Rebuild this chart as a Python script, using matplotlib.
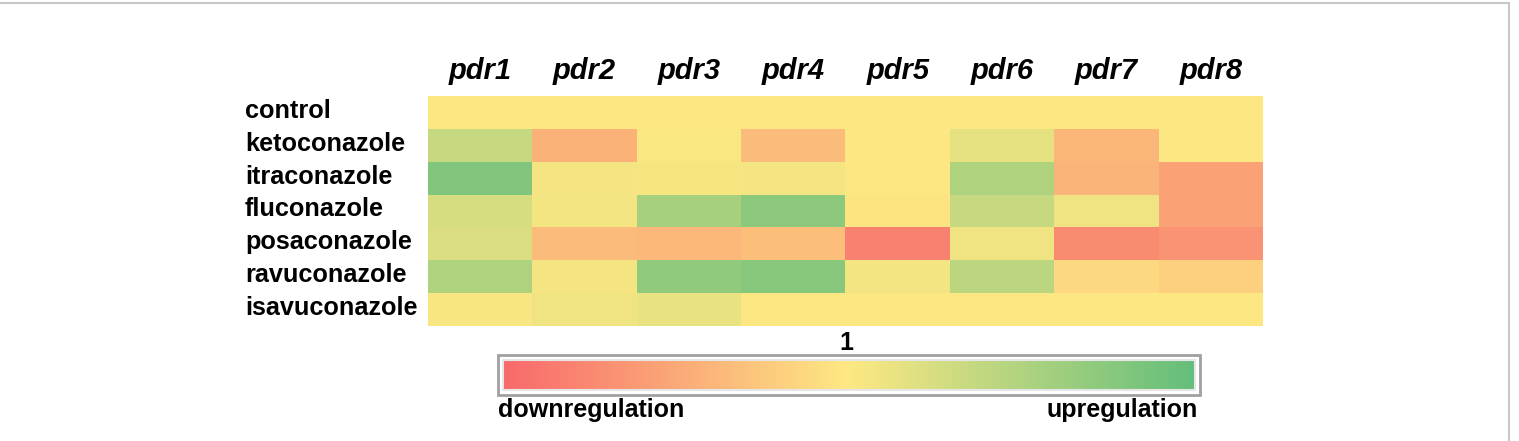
import matplotlib
matplotlib.use("Agg")
import matplotlib.pyplot as plt
from matplotlib.colors import LinearSegmentedColormap, Normalize
from matplotlib.cm import ScalarMappable
from matplotlib.lines import Line2D
from matplotlib.patches import Rectangle
import numpy as np

plt.rcParams['font.family'] = ['Liberation Sans', 'DejaVu Sans']

# genes (columns) and treatments (rows)
genes = ['pdr1', 'pdr2', 'pdr3', 'pdr4', 'pdr5', 'pdr6', 'pdr7', 'pdr8']
treatments = ['control', 'ketoconazole', 'itraconazole', 'fluconazole',
              'posaconazole', 'ravuconazole', 'isavuconazole']

# relative regulation, -1 = strongest down, 0 = unchanged, 1 = strongest up
control = [0.0, 0.0, 0.0, 0.0, 0.0, 0.0, 0.0, 0.0]
ketoconazole = [0.35, -0.42, 0.02, -0.35, 0.0, 0.15, -0.38, 0.0]
itraconazole = [0.80, 0.05, 0.04, 0.05, 0.0, 0.50, -0.40, -0.55]
fluconazole = [0.25, 0.06, 0.55, 0.72, -0.03, 0.35, 0.08, -0.55]
posaconazole = [0.22, -0.35, -0.37, -0.32, -0.80, 0.08, -0.72, -0.66]
ravuconazole = [0.50, 0.05, 0.70, 0.75, 0.06, 0.42, -0.12, -0.18]
isavuconazole = [0.03, 0.08, 0.13, 0.0, 0.0, 0.0, 0.0, 0.0]

values = np.array([control, ketoconazole, itraconazole, fluconazole,
                   posaconazole, ravuconazole, isavuconazole])

cmap = LinearSegmentedColormap.from_list('rdylgn_excel', ['#f8696b', '#fde883', '#63be7b'])
norm = Normalize(vmin=-1, vmax=1)

W, H = 1519, 441
fig = plt.figure(figsize=(W / 100, H / 100), dpi=100)

def px_axes(x0, y0, x1, y1):
    return fig.add_axes([x0 / W, 1 - y1 / H, (x1 - x0) / W, (y1 - y0) / H])

def fx(x):
    return x / W

def fy(y):
    return 1 - y / H

# heatmap
ax = px_axes(428, 96, 1263, 326)
ax.imshow(values, cmap=cmap, norm=norm, aspect='auto', interpolation='nearest')
ax.set_xticks([])
ax.set_yticks([])
for s in ax.spines.values():
    s.set_visible(False)

for j, g in enumerate(genes):
    fig.text(fx(428 + 104.4 * (j + 0.5)), fy(71), g, ha='center', va='center',
             fontsize=21, fontweight='bold', fontstyle='italic')
for i, t in enumerate(treatments):
    fig.text(fx(245), fy(96 + 32.86 * (i + 0.45)), t, ha='left', va='center',
             fontsize=18.2, fontweight='bold')

# colour scale bar
cax = px_axes(503, 360, 1195, 390)
cb = fig.colorbar(ScalarMappable(norm=norm, cmap=cmap), cax=cax, orientation='horizontal')
cb.set_ticks([])
cb.outline.set_edgecolor('#e6e6e6')
cb.outline.set_linewidth(1.5)
fig.add_artist(Rectangle((fx(498), fy(395)), fx(1200) - fx(498), fy(355) - fy(395),
                         transform=fig.transFigure, facecolor='none',
                         edgecolor='#a0a0a0', lw=2))

fig.text(fx(846), fy(343), '1', ha='center', va='center', fontsize=18, fontweight='bold')
fig.text(fx(498), fy(410), 'downregulation', ha='left', va='center', fontsize=18, fontweight='bold')
fig.text(fx(1198), fy(410), 'upregulation', ha='right', va='center', fontsize=18, fontweight='bold')

# light frame (top and right edges)
fig.add_artist(Line2D([0, fx(1509)], [fy(3), fy(3)], color='#c8c8c8', lw=1.5))
fig.add_artist(Line2D([fx(1509), fx(1509)], [0, fy(3)], color='#c8c8c8', lw=1.5))

fig.savefig('out.png', dpi=100)
